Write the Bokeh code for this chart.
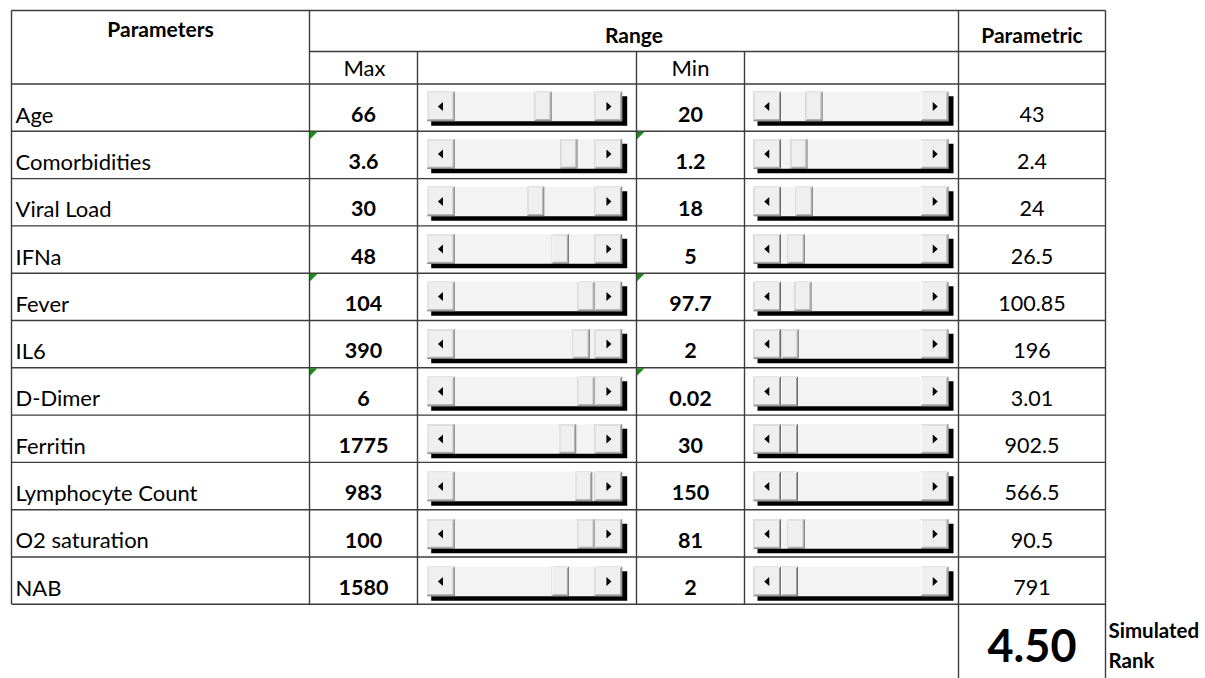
from bokeh.plotting import figure
from bokeh.models import Range1d, ColumnDataSource
from bokeh.core.properties import value
from bokeh.embed import file_html
from bokeh.resources import INLINE

# ---------------- data ----------------
parameters = ["Age", "Comorbidities", "Viral Load", "IFNa", "Fever", "IL6",
              "D-Dimer", "Ferritin", "Lymphocyte Count", "O2 saturation", "NAB"]
max_values = ["66", "3.6", "30", "48", "104", "390", "6", "1775", "983", "100", "1580"]
min_values = ["20", "1.2", "18", "5", "97.7", "2", "0.02", "30", "150", "81", "2"]
parametric = ["43", "2.4", "24", "26.5", "100.85", "196", "3.01", "902.5", "566.5", "90.5", "791"]
# scrollbar thumb positions (0 = far left, 1 = far right)
max_slider = [0.65, 0.86, 0.59, 0.79, 1.0, 0.96, 1.0, 0.85, 0.98, 1.0, 0.79]
min_slider = [0.20, 0.077, 0.12, 0.055, 0.11, 0.006, 0.0, 0.0, 0.0, 0.055, 0.0]
# cells carrying the green corner indicator
flagged = [0, 1, 0, 0, 1, 0, 1, 0, 0, 0, 0]
header_main = ["Parameters", "Range", "Parametric"]
header_sub = ["Max", "Min"]
simulated_rank = "4.50"
rank_label = ["Simulated", "Rank"]

FONT = "Lato"

# ---------------- figure ----------------
W, H = 1205, 678
p = figure(width=W, height=H, x_range=Range1d(0, W), y_range=Range1d(H, 0),
           output_backend="svg", toolbar_location=None, min_border=0,
           x_axis_location=None, y_axis_location=None, outline_line_color=None)
p.grid.visible = False
p.background_fill_color = "white"
p.border_fill_color = "white"

# layout
XL, XC1, XC2, XC3, XC4, XC5, XR = 11, 309, 417, 636, 744, 958, 1105
YT, YH1, YH2 = 10, 51, 83.5
ROW_H = 47.3
n = len(parameters)
row_top = [YH2 + ROW_H * i for i in range(n)]
YB = YH2 + ROW_H * n
BASE = 38.3

# ---------------- grid lines ----------------
x0s, y0s, x1s, y1s = [], [], [], []
def seg(a, b, c, d):
    x0s.append(a); y0s.append(b); x1s.append(c); y1s.append(d)

seg(XL, YT, XR, YT)
seg(XC1, YH1, XR, YH1)
for i in range(n + 1):
    seg(XL, YH2 + ROW_H * i, XR, YH2 + ROW_H * i)
seg(XL, YT, XL, YB)
seg(XC1, YT, XC1, YB)
for xx in (XC2, XC3, XC4):
    seg(xx, YH1, xx, YB)
seg(XC5, YT, XC5, 690)
seg(XR, YT, XR, 690)
p.segment(x0s, y0s, x1s, y1s, line_color="#3c3c3c", line_width=1.4)

# ---------------- green corner indicators ----------------
txs, tys = [], []
for i in range(n):
    if flagged[i]:
        for cx in (XC1, XC3):
            t = row_top[i]
            txs.append([cx + 0.5, cx + 8, cx + 0.5])
            tys.append([t + 0.5, t + 0.5, t + 8])
p.patches(txs, tys, fill_color="#1a8a1a", line_color=None)

# ---------------- scrollbars ----------------
SB_W = 195
BTN_W = 27.5
THUMB_W = 17
SB_H = 29.5
shadow, track, bevels, lefts, rights = [], [], [], [], []
for i in range(n):
    t = 91.3 + 47.5 * i
    b = t + SB_H
    for sl, frac in ((426.7, max_slider[i]), (753, min_slider[i])):
        sr = sl + SB_W
        shadow.append((sl + 4, sr + 5, t + 4.5, b + 4.5))
        track.append((sl, sr, t, b))
        tl = sl + BTN_W
        tr = sr - BTN_W
        th_l = tl + frac * (tr - tl - THUMB_W)
        bevels.append((sl, tl, t, b))
        bevels.append((tr, sr, t, b))
        bevels.append((th_l, th_l + THUMB_W, t, b))
        cy = (t + b) / 2
        cxl = (sl + tl) / 2
        cxr = (tr + sr) / 2
        lefts.append(([cxl - 3, cxl + 2, cxl + 2], [cy, cy - 4.5, cy + 4.5]))
        rights.append(([cxr + 3, cxr - 2, cxr - 2], [cy, cy - 4.5, cy + 4.5]))

def quads(rects, color, dl=0, dr=0, dt=0, db=0):
    p.quad(left=[r[0] + dl for r in rects], right=[r[1] + dr for r in rects],
           top=[r[2] + dt for r in rects], bottom=[r[3] + db for r in rects],
           fill_color=color, line_color=None)

quads(shadow, "#000000")
quads(track, "#f3f3f3")
quads(bevels, "#6e6e6e")
quads(bevels, "#ffffff", dr=-1, db=-1)
quads(bevels, "#a0a0a0", dl=1, dr=-1, dt=1, db=-1)
quads(bevels, "#efefef", dl=1, dr=-2, dt=1, db=-2)
p.patches([a[0] for a in lefts + rights], [a[1] for a in lefts + rights],
          fill_color="#000000", line_color=None)

# ---------------- texts ----------------
def txt(xs, ys, texts, size, bold=False, align="center"):
    # compensate the renderer's baseline offset so that ys are true baselines
    corr = 0.37 * size
    src = ColumnDataSource(dict(x=xs, y=[y - corr for y in ys], t=texts))
    p.text(x="x", y="y", text="t", source=src, text_font=value(FONT),
           text_font_size=value("%gpx" % size), text_font_style="bold" if bold else "normal",
           text_align=align, text_baseline="alphabetic", text_color="#000000")

txt([160, 633.5, 1031.5], [36, 42, 42], header_main, 21, bold=True)
txt([364, 690], [75, 75], header_sub, 22)
ys = [t + BASE for t in row_top]
txt([15] * n, ys, parameters, 22, align="left")
txt([363] * n, ys, max_values, 21.5, bold=True)
txt([690] * n, ys, min_values, 21.5, bold=True)
txt([1031.5] * n, ys, parametric, 21.5)
txt([1031.5], [662], [simulated_rank], 45, bold=True)
txt([1108, 1108], [637, 667], rank_label, 20.5, bold=True, align="left")

open("out.html", "w").write(file_html(p, INLINE))
